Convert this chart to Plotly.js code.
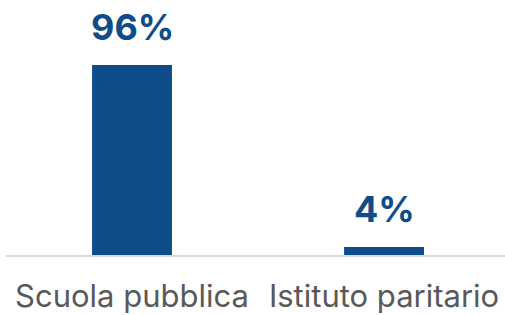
<!DOCTYPE html>
<html><head><meta charset="utf-8">
<script src="https://cdn.plot.ly/plotly-3.0.1.min.js"></script>
<style>html,body{margin:0;padding:0;background:#fff}#c{width:505px;height:315px}</style>
</head><body><div id="c"></div>
<script>
const categories = ["Scuola pubblica", "Istituto paritario"];
const values = [96, 4];
const valueLabels = ["96%", "4%"];

const barColor = "#0f4c8a";
const trace = {
  type: "bar", x: categories, y: values, width: 0.317,
  marker: {color: barColor}, hoverinfo: "none"
};
const annotations = categories.map((c, i) => ({
  x: c, y: values[i], xref: "x", yref: "y", text: valueLabels[i],
  showarrow: false, yanchor: "bottom", yshift: 14,
  font: {family: "Inter", size: 36, color: barColor, weight: 700}
}));
const layout = {
  width: 505, height: 315,
  margin: {l: 6, r: 0, t: 57, b: 60},
  paper_bgcolor: "#fff", plot_bgcolor: "#fff",
  showlegend: false,
  xaxis: {range: [-0.5, 1.48], showline: true, linecolor: "#d9d9d9", linewidth: 2,
    ticks: "", showgrid: false, zeroline: false, fixedrange: true,
    tickfont: {family: "Inter", size: 31, color: "#595959"}, ticklabelstandoff: 13},
  yaxis: {range: [0, 100], visible: false, showgrid: false, zeroline: false, fixedrange: true},
  annotations: annotations
};
Plotly.newPlot("c", [trace], layout, {displayModeBar: false, staticPlot: true});
</script></body></html>
